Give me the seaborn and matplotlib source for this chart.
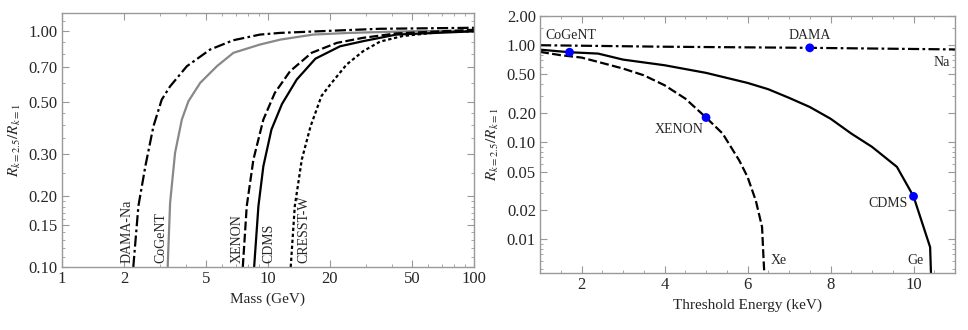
import numpy as np
import pandas as pd
import seaborn as sns
import matplotlib.pyplot as plt
from matplotlib.ticker import FixedLocator, NullFormatter

# left panel: ratio vs WIMP mass
dama_mass = [2.22, 2.35, 2.54, 2.78, 3.05, 3.35, 4.04, 5.24, 6.78, 9.16, 11.5, 20, 35, 100]
dama_r = [0.10, 0.181, 0.267, 0.394, 0.511, 0.582, 0.708, 0.833, 0.912, 0.964, 0.98, 1.0, 1.02, 1.03]
cogent_mass = [3.26, 3.35, 3.54, 3.82, 4.11, 4.69, 5.65, 6.8, 9.16, 11.5, 16.6, 25, 50, 100]
cogent_r = [0.10, 0.187, 0.304, 0.421, 0.503, 0.602, 0.708, 0.807, 0.875, 0.918, 0.964, 0.98, 0.996, 1.0]
xenon_mass = [7.55, 7.89, 8.5, 9.5, 10.8, 12.8, 16.3, 21.6, 29, 42, 100]
xenon_r = [0.10, 0.181, 0.285, 0.421, 0.546, 0.674, 0.807, 0.889, 0.934, 0.975, 1.01]
cdms_mass = [8.57, 8.99, 9.5, 10.4, 11.7, 13.8, 17.0, 22.4, 29, 42, 100]
cdms_r = [0.10, 0.181, 0.267, 0.382, 0.49, 0.622, 0.762, 0.86, 0.904, 0.964, 0.995]
cresst_mass = [12.9, 13.5, 14.6, 16.1, 18.2, 20, 24.1, 29, 35, 45, 70, 100]
cresst_r = [0.10, 0.181, 0.285, 0.394, 0.53, 0.59, 0.72, 0.82, 0.90, 0.95, 0.99, 0.995]

# right panel: ratio vs threshold energy
na_e = [1, 4, 7.5, 11]
na_r = [1.0, 0.965, 0.94, 0.905]
ge_e = [1, 1.71, 2.4, 3, 4, 5, 6, 6.5, 7, 7.5, 8, 8.5, 9, 9.6, 10, 10.4, 10.42]
ge_r = [0.90, 0.847, 0.82, 0.711, 0.622, 0.519, 0.409, 0.352, 0.287, 0.231,
        0.175, 0.123, 0.0897, 0.0558, 0.0277, 0.0083, 0.0045]
xe_e = [1, 1.5, 2, 2.4, 3, 3.5, 4, 4.5, 5, 5.4, 5.8, 6.0, 6.2, 6.35, 6.38, 6.4]
xe_r = [0.854, 0.789, 0.746, 0.673, 0.575, 0.49, 0.387, 0.282, 0.180, 0.123,
        0.065, 0.044, 0.025, 0.0134, 0.0071, 0.0048]
exp_names = ['CoGeNT', 'DAMA', 'XENON', 'CDMS']
exp_e = [1.71, 7.5, 5.0, 10.0]
exp_r = [0.847, 0.94, 0.180, 0.0277]

sns.set_style('ticks')
plt.rcParams['font.family'] = ['Liberation Serif', 'DejaVu Serif']
plt.rcParams['mathtext.fontset'] = 'stix'

fig = plt.figure(figsize=(9.68, 3.30), dpi=100)
ax1 = fig.add_axes([0.064, 0.191, 0.4256, 0.7697])
ax2 = fig.add_axes([0.5579, 0.1727, 0.4287, 0.7788])

frame = '#999999'
lw = 1.6
left_series = [
    (dama_mass, dama_r, 'black', (0, (5, 1.5, 1.2, 1.5))),
    (cogent_mass, cogent_r, '#888888', '-'),
    (xenon_mass, xenon_r, 'black', (0, (4, 1.5))),
    (cdms_mass, cdms_r, 'black', '-'),
    (cresst_mass, cresst_r, 'black', (0, (1.5, 1.2))),
]
for xs, ys, c, ls in left_series:
    df = pd.DataFrame({'x': xs, 'y': ys})
    sns.lineplot(data=df, x='x', y='y', ax=ax1, color=c, linestyle=ls, lw=lw, sort=False)

ax1.set_xscale('log')
ax1.set_yscale('log')
ax1.set_xlim(1, 100)
ax1.set_ylim(0.1, 1.19)
ax1.xaxis.set_major_locator(FixedLocator([1, 2, 5, 10, 20, 50, 100]))
ax1.set_xticklabels(['1', '2', '5', '10', '20', '50', '100'])
ax1.yaxis.set_major_locator(FixedLocator([0.1, 0.15, 0.2, 0.3, 0.5, 0.7, 1.0]))
ax1.set_yticklabels(['0.10', '0.15', '0.20', '0.30', '0.50', '0.70', '1.00'])
ax1.xaxis.set_minor_locator(FixedLocator([3, 4, 6, 7, 8, 9, 30, 40, 60, 70, 80, 90]))
ax1.xaxis.set_minor_formatter(NullFormatter())
ax1.yaxis.set_minor_locator(FixedLocator([0.11, 0.12, 0.13, 0.14, 0.16, 0.17, 0.18, 0.19,
                                          0.25, 0.35, 0.4, 0.45, 0.6, 0.8, 0.9, 1.1]))
ax1.set_xlabel('Mass (GeV)', fontsize=11)
ax1.set_ylabel(r'$R_{k=2.5}/R_{k=1}$', fontsize=11)

left_labels = [('DAMA-Na', 2.07), ('CoGeNT', 3.03), ('XENON', 7.06), ('CDMS', 10.05), ('CRESST-W', 14.9)]
for name, xm in left_labels:
    ax1.text(xm, 0.104, name, rotation=90, ha='center', va='bottom', fontsize=10)

right_series = [
    (na_e, na_r, (0, (5, 1.5, 1.2, 1.5))),
    (ge_e, ge_r, '-'),
    (xe_e, xe_r, (0, (4, 1.5))),
]
for xs, ys, ls in right_series:
    df = pd.DataFrame({'x': xs, 'y': ys})
    sns.lineplot(data=df, x='x', y='y', ax=ax2, color='black', linestyle=ls, lw=lw, sort=False)

pts = pd.DataFrame({'e': exp_e, 'r': exp_r})
sns.scatterplot(data=pts, x='e', y='r', ax=ax2, color='blue', s=40, edgecolor='none', zorder=5)

ax2.set_yscale('log')
ax2.set_xlim(1, 11)
ax2.set_ylim(0.0045, 2.0)
ax2.xaxis.set_major_locator(FixedLocator([2, 4, 6, 8, 10]))
ax2.xaxis.set_minor_locator(FixedLocator(np.arange(1.5, 11.01, 0.5)))
ax2.yaxis.set_major_locator(FixedLocator([0.01, 0.02, 0.05, 0.1, 0.2, 0.5, 1.0, 2.0]))
ax2.set_yticklabels(['0.01', '0.02', '0.05', '0.10', '0.20', '0.50', '1.00', '2.00'])
ax2.yaxis.set_minor_locator(FixedLocator([0.005, 0.006, 0.007, 0.008, 0.009, 0.03, 0.04,
                                          0.06, 0.07, 0.08, 0.09, 0.3, 0.4, 0.6, 0.7,
                                          0.8, 0.9, 1.5]))
ax2.set_xlabel('Threshold Energy (keV)', fontsize=11)
ax2.set_ylabel(r'$R_{k=2.5}/R_{k=1}$', fontsize=11)

right_labels = [('CoGeNT', 1.14, 1.25, 'left'), ('DAMA', 7.5, 1.25, 'center'),
                ('Na', 10.68, 0.663, 'center'), ('XENON', 4.36, 0.136, 'center'),
                ('CDMS', 9.38, 0.0233, 'center'), ('Xe', 6.76, 0.0061, 'center'),
                ('Ge', 10.04, 0.0061, 'center')]
for name, xe, yr, ha in right_labels:
    ax2.text(xe, yr, name, ha=ha, va='center', fontsize=10)

for ax in (ax1, ax2):
    ax.yaxis.set_minor_formatter(NullFormatter())
    ax.tick_params(which='both', direction='in', top=True, right=True,
                   color=frame, labelsize=12, pad=3)
    ax.tick_params(which='major', length=5)
    ax.tick_params(which='minor', length=2.5)
    for s in ax.spines.values():
        s.set_color(frame)
        s.set_linewidth(1.0)
    if ax.get_legend() is not None:
        ax.get_legend().remove()

plt.savefig('out.png', dpi=100)
